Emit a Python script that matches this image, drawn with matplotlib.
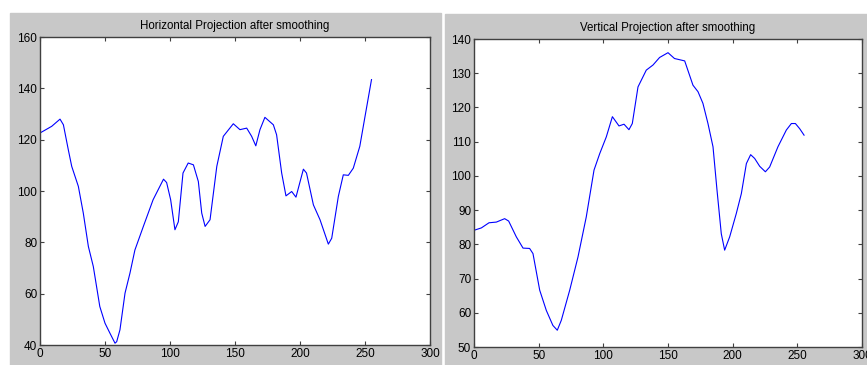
import matplotlib
matplotlib.use('Agg')
import matplotlib.pyplot as plt
from matplotlib.patches import Rectangle

# Horizontal projection (left panel)
hx = [0, 9, 15.4, 18, 21.8, 24.4, 29.5, 33.3, 37.2, 41, 46, 50, 53.8, 57.7, 59, 61.5,
      65.4, 69.2, 73, 79.5, 87, 95, 97.4, 100.5, 103.8, 106.4, 110, 114, 118, 121.8,
      124.4, 127, 130.8, 136, 141, 148.7, 153.8, 159, 162.8, 166, 169.2, 173, 179.5,
      182, 185.9, 189.2, 193.6, 196.9, 202.6, 205, 210.3, 215.4, 221.8, 224.4, 229.5,
      233.3, 237.2, 241, 246, 250, 255]
hy = [122.6, 125.2, 128, 125.8, 116, 109.6, 101.8, 91.4, 78.4, 70.6, 55, 48.5, 44.6,
      40.7, 41.3, 45.9, 60.2, 68, 77, 86.2, 96.6, 104.6, 103.3, 96.6, 84.9, 88, 107,
      110.9, 110.2, 103.7, 91.4, 86.2, 88.8, 109.6, 121.3, 126.2, 123.9, 124.5, 121.3,
      117.6, 123.9, 128.7, 125.8, 121.9, 107, 98.1, 99.8, 97.6, 108.5, 107, 94.6, 88.8,
      79.3, 81.6, 97.9, 106.3, 106.1, 108.9, 117.4, 129, 143.4]

# Vertical projection (right panel)
vx = [0, 5.7, 11.6, 17.3, 23.7, 26.8, 32.7, 37.9, 43, 45.6, 50.8, 55.9, 61, 64.4, 67.5,
      74, 80.4, 86.8, 92.8, 97.2, 102.3, 107, 112.1, 116, 119.8, 122.4, 126.8, 133.2,
      138.4, 143.5, 150, 155, 162.9, 169.3, 173.2, 177, 180.9, 184.8, 187.9, 191.2,
      193.8, 197.7, 202.8, 206.7, 210.6, 213.9, 217, 220.9, 225.3, 228.6, 235, 241.5,
      245.4, 248.5, 251.8, 255.2]
vy = [84.1, 84.8, 86.3, 86.5, 87.5, 86.8, 82.2, 78.9, 78.8, 77.3, 66.6, 60.7, 56.3,
      54.9, 57.8, 66.6, 76.3, 88, 101.7, 106.5, 111.4, 117.3, 114.6, 115.1, 113.5,
      115.3, 126, 130.9, 132.4, 134.6, 136, 134.3, 133.6, 126.5, 124.6, 121.2, 115.3,
      108.5, 95.8, 83.1, 78.3, 82.2, 89, 94.8, 103.6, 106.2, 105.1, 102.8, 101.2,
      102.6, 108.5, 113.4, 115.3, 115.3, 113.8, 111.9]

titles = ['Horizontal Projection after smoothing', 'Vertical Projection after smoothing']

plt.rcParams['font.family'] = ['Liberation Sans', 'DejaVu Sans']
plt.rcParams['font.size'] = 8

W, H = 867, 365
fig = plt.figure(figsize=(W / 100, H / 100), dpi=100)
fig.patch.set_facecolor('white')

grey = '#c8c8c8'
# grey panel backgrounds, in pixels
for x0, y0, x1, y1 in [(10, 13, 441, 365), (445, 14, 867, 365)]:
    fig.patches.append(Rectangle((x0 / W, 1 - y1 / H), (x1 - x0) / W, (y1 - y0) / H,
                                 transform=fig.transFigure, color=grey, zorder=-5))

ax1 = fig.add_axes([40 / W, 1 - 345 / H, 390 / W, 308 / H])
ax2 = fig.add_axes([474 / W, 1 - 347 / H, 388 / W, 308 / H])

ax1.plot(hx, hy, color='#0000ff', lw=0.8)
ax1.set_ylim(40, 160)
ax1.set_yticks(range(40, 161, 20))

ax2.plot(vx, vy, color='#0000ff', lw=0.8)
ax2.set_ylim(50, 140)
ax2.set_yticks(range(50, 141, 10))

for ax, t in zip([ax1, ax2], titles):
    ax.set_zorder(2)
    ax.set_xlim(0, 300)
    ax.set_xticks(range(0, 301, 50))
    ax.set_title(t, fontsize=8.3, pad=6)
    ax.tick_params(direction='in', top=True, right=True, length=3, width=0.8,
                   color='#404040', labelsize=8.5, pad=2)
    for s in ax.spines.values():
        s.set_color('#404040')
        s.set_linewidth(1.0)

fig.savefig('out.png', dpi=100)
